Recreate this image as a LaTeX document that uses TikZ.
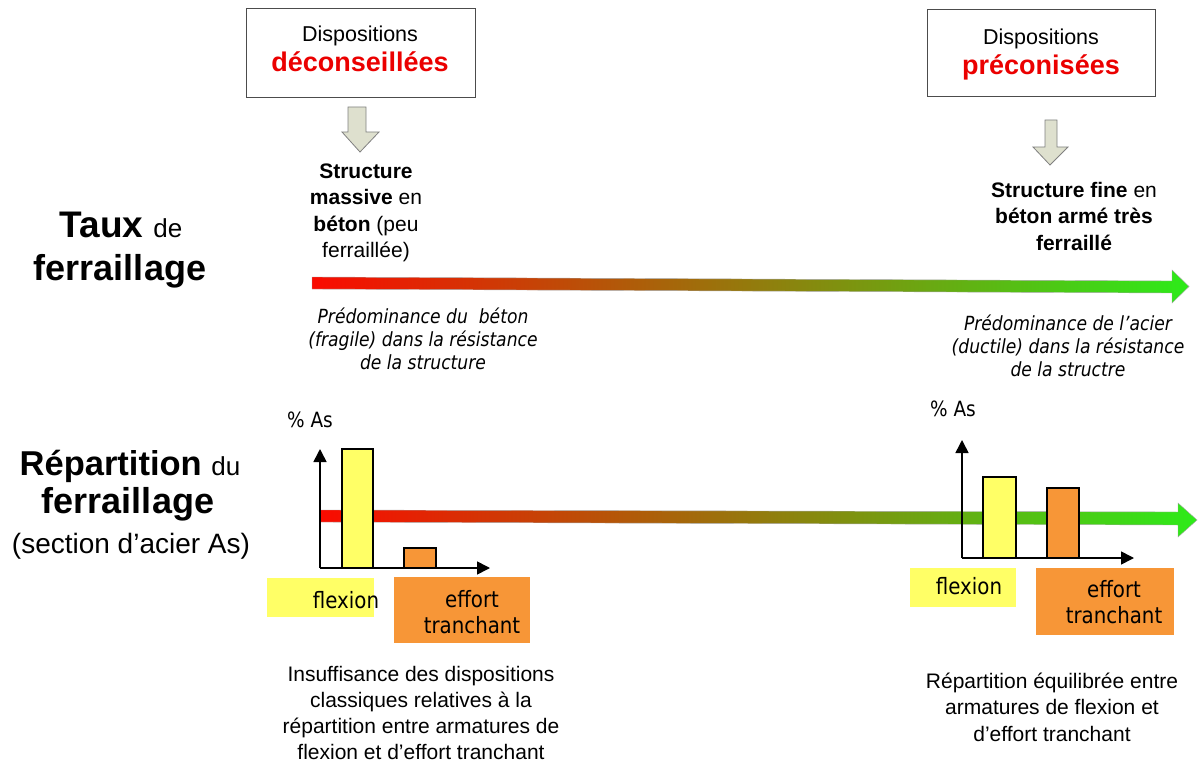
\documentclass[tikz,border=0pt]{standalone}
\usepackage{fontspec}
\setmainfont{Liberation Sans}
\newfontfamily\tah[FakeStretch=0.88]{DejaVu Sans}
\usetikzlibrary{arrows.meta}
\newcommand{\setfs}[2]{\fontsize{#1}{#2}\selectfont}
\definecolor{redA}{RGB}{250,10,0}
\definecolor{greenA}{RGB}{45,235,25}
\definecolor{arrgray}{RGB}{222,224,206}
\definecolor{ylw}{RGB}{255,255,102}
\definecolor{org}{RGB}{247,150,55}
\definecolor{dred}{RGB}{235,0,0}
\tikzset{
  x=1pt, y=-1pt,
  dispbox/.style={draw=black!70, line width=1pt, fill=white},
  downarr/.style={draw=black!50, line width=0.8pt, fill=arrgray},
  grad/.style={left color=redA, right color=greenA, draw=black!35, line width=0.4pt},
  axis/.style={line width=1.6pt, -{Triangle[length=13pt,width=13pt]}},
  bar/.style={draw=black, line width=1.4pt},
  lbl/.style={anchor=base, inner sep=0pt, align=center},
  body/.style={lbl, font=\setfs{21}{26.5}},
  ital/.style={lbl, font=\tah\itshape\setfs{19.5}{23}},
  tahl/.style={lbl, font=\tah\setfs{22.5}{26}},
}
\begin{document}
\begin{tikzpicture}
\useasboundingbox (0,0) rectangle (1199,762);
% top boxes
\draw[dispbox] (246,9) rectangle (475,98);
\node[lbl, font=\setfs{21.5}{24}] (d1) at (360,42) {Dispositions};
\node[lbl, text=dred, font=\setfs{27}{30}\bfseries] (d1b) at (360,72) {déconseillées};
\draw[dispbox] (927,10) rectangle (1155,97);
\node[lbl, font=\setfs{21.5}{24}] (d2) at (1041,45) {Dispositions};
\node[lbl, text=dred, font=\setfs{27}{30}\bfseries] (d2b) at (1041,75) {préconisées};
% down arrows
\draw[downarr] (348,107) -- (366,107) -- (366,132) -- (379,132) -- (360,152) -- (342,132) -- (348,132) -- cycle;
\draw[downarr] (1045,120) -- (1057,120) -- (1057,147) -- (1068,147) -- (1050,165) -- (1033,147) -- (1045,147) -- cycle;
% left headings
\node[lbl] (taux) at (121,237) {\setfs{37}{40}\bfseries Taux \setfs{26}{30}\mdseries de};
\node[lbl, font=\setfs{36}{40}\bfseries] (ferr1) at (120,280) {ferraillage};
\node[lbl] (rep) at (130,475) {\setfs{34.5}{40}\bfseries Répartition \setfs{26}{30}\mdseries du};
\node[lbl, font=\setfs{36}{40}\bfseries] (ferr2) at (128,513) {ferraillage};
\node[lbl, font=\setfs{28}{30}] (sect) at (131,553) {(section d’acier As)};
% structure texts (anchor = baseline of last line)
\node[body] (s1) at (366,257.5) {\textbf{Structure}\\ \textbf{massive} en\\ \textbf{béton} (peu\\ ferraillée)};
\node[body, font=\setfs{21}{26}] (s2) at (1074,250) {\textbf{Structure fine} en\\ \textbf{béton armé très}\\ \textbf{ferraillé}};
% top gradient arrow
\shade[grad] (312,277) -- (1172,281) -- (1172,270) -- (1189,286.5) -- (1172,303) -- (1172,293) -- (312,289) -- cycle;
% italic texts
\node[ital] (p1) at (423,369) {Prédominance du \ béton\\ (fragile) dans la résistance\\ de la structure};
\node[ital] (p2) at (1068,376) {Prédominance de l’acier\\ (ductile) dans la résistance\\ de la structre};
% bottom gradient arrow
\shade[grad] (320,510) -- (1178,512) -- (1178,503) -- (1197,520) -- (1178,537) -- (1178,525) -- (320,522) -- cycle;
% left chart
\node[lbl, font=\tah\setfs{21}{22}] (as1) at (310,427) {\% As};
\coordinate (o1) at (320,568);
\coordinate (y1) at (320,449);
\coordinate (x1) at (490,568);
\draw[axis] (o1) -- (y1);
\draw[axis] (o1) -- (x1);
\draw[bar, fill=ylw] (342,568) rectangle (373,449);
\draw[bar, fill=org] (404,568) rectangle (436,548);
\fill[ylw] (267,578) rectangle (374,617);
\node[tahl] (fl1) at (346,608) {flexion};
\fill[org] (394,577) rectangle (530,643);
\node[tahl] (ef1) at (472,633) {effort\\ tranchant};
% right chart
\node[lbl, font=\tah\setfs{21}{22}] (as2) at (953,416) {\% As};
\coordinate (o2) at (962,558);
\coordinate (y2) at (962,440);
\coordinate (x2) at (1134,558);
\draw[axis] (o2) -- (y2);
\draw[axis] (o2) -- (x2);
\draw[bar, fill=ylw] (983,558) rectangle (1016,477);
\draw[bar, fill=org] (1047,558) rectangle (1079,488);
\fill[ylw] (910,568) rectangle (1016,607);
\node[tahl] (fl2) at (969,594) {flexion};
\fill[org] (1036,568) rectangle (1174,635);
\node[tahl] (ef2) at (1114,623) {effort\\ tranchant};
% bottom texts
\node[body, font=\setfs{21}{26}] (b1) at (421,759) {Insuffisance des dispositions\\ classiques relatives à la\\ répartition entre armatures de\\ flexion et d’effort tranchant};
\node[body] (b2) at (1052,741) {Répartition équilibrée entre\\ armatures de flexion et\\ d’effort tranchant};
\end{tikzpicture}
\end{document}
